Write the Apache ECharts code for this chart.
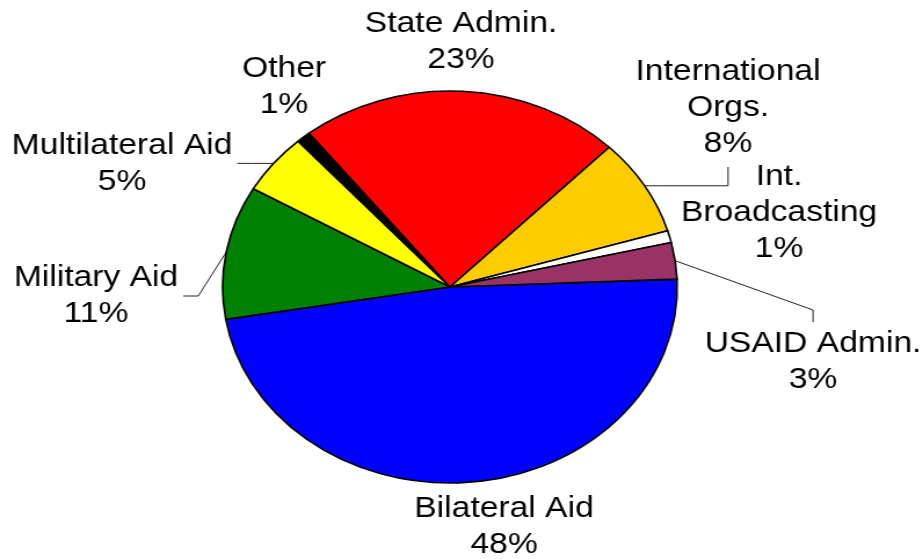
<!DOCTYPE html>
<html>
<head>
<meta charset="utf-8">
<script src="https://cdn.jsdelivr.net/npm/echarts@6/dist/echarts.min.js"></script>
<style>
  html, body { margin: 0; padding: 0; background: #fff; overflow: hidden; }
  /* the original picture is a round pie stretched sideways, so stretch the whole chart */
  #chart { width: 796px; height: 559px; transform: scaleX(1.1596); transform-origin: 0 0; }
</style>
</head>
<body>
<div id="chart"></div>
<script>
const categories = ['Bilateral Aid', 'Military Aid', 'Multilateral Aid', 'Other', 'State Admin.',
  'International\nOrgs.', 'Int.\nBroadcasting', 'USAID Admin.']
const shares = [48, 11, 5, 1, 23, 8, 1, 3]
const sliceColors = ['#0000ff', '#008000', '#ffff00', '#000000', '#ff0000', '#ffcc00', '#ffffff', '#993366']

const STRETCH = 923 / 796

// label centres in picture pixels, and how the leader line runs
const labelSpots = [[504, 527], [96, 296], [122, 164], [284, 87], [461, 42], [728, 108], [779, 213], [813, 362]]
const leaderKind = [null, 'left', 'flat', null, null, 'up', null, 'down']

const leader = (kind, a, x, y, w, h) => {
  const right = x + w / 2
  if (kind === 'left') return [a, [right + 20 / STRETCH, y], [right + 5 / STRETCH, y]]
  if (kind === 'flat') return [a, [right + 20 / STRETCH, a[1]], [right + 5 / STRETCH, a[1]]]
  if (kind === 'up') return [a, [x, a[1]], [x, y + h / 2 + 5]]
  return [a, [x, y - h / 2 - 16], [x, y - h / 2 - 4]]
}

const chart = echarts.init(document.getElementById('chart'))
const option = {
  animation: false,
  series: [
    {
      type: 'pie',
      center: [388, 287],
      radius: 196,
      startAngle: 2.3,
      clockwise: true,
      avoidLabelOverlap: false,
      emphasis: { disabled: true },
      itemStyle: { borderColor: '#000', borderWidth: 1.6 },
      label: {
        show: true,
        position: 'outside',
        fontFamily: '"Liberation Sans", Arial, sans-serif',
        fontSize: 29,
        lineHeight: 36,
        color: '#000',
        align: 'center',
        formatter: (p) => p.name + '\n' + shares[p.dataIndex] + '%'
      },
      labelLine: { show: true, lineStyle: { color: '#222', width: 1 } },
      labelLayout: (params) => {
        const i = params.dataIndex
        const x = labelSpots[i][0] / STRETCH
        const y = labelSpots[i][1]
        const out = { x: x, y: y, align: 'center', verticalAlign: 'middle' }
        const pts = params.labelLinePoints
        if (leaderKind[i] && pts) {
          out.labelLinePoints = leader(leaderKind[i], pts[0], x, y, params.labelRect.width, params.labelRect.height)
        }
        return out
      },
      data: categories.map((name, i) => ({
        name: name,
        value: shares[i],
        itemStyle: { color: sliceColors[i] },
        labelLine: { show: leaderKind[i] !== null }
      }))
    }
  ]
}
chart.setOption(option)
</script>
</body>
</html>
